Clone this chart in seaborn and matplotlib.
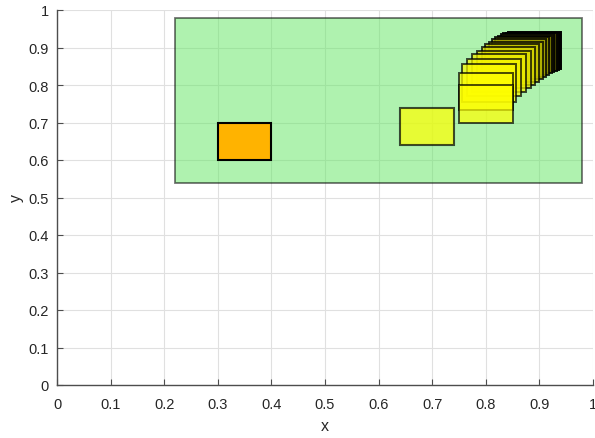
import numpy as np
import matplotlib
matplotlib.use("Agg")
import matplotlib.pyplot as plt
from matplotlib.patches import Rectangle
import seaborn as sns

# rectangles (lower-left corner, size 0.1 x 0.1)
box_x = [0.30, 0.64]
box_y = [0.60, 0.64]
box_colors = [(1.0, 0.70, 0.0), (1.0, 1.0, 0.0)]
box_alpha = [1.0, 0.7]

# big green region
region_xy = (0.22, 0.54)
region_w, region_h = 0.76, 0.44

# trail of boxes, first (yellow) to last (black)
trail_x = [0.750, 0.750, 0.756, 0.765, 0.775, 0.784, 0.792, 0.799, 0.806,
           0.812, 0.818, 0.823, 0.828, 0.833, 0.837, 0.841]
trail_y = [0.700, 0.733, 0.755, 0.770, 0.782, 0.792, 0.801, 0.809, 0.816,
           0.822, 0.827, 0.831, 0.835, 0.838, 0.840, 0.842]
size = 0.1

sns.set_style("whitegrid")
plt.rcParams["font.family"] = ["Liberation Sans", "DejaVu Sans"]

fig = plt.figure(figsize=(5.95, 4.39), dpi=100)
ax = fig.add_axes([57 / 595, 53 / 439, 536 / 595, 375 / 439])

txt = (0.15, 0.15, 0.15)
ax.grid(True, color=(0.88, 0.88, 0.88), linewidth=0.8)
ax.set_axisbelow(True)

ax.add_patch(Rectangle(region_xy, region_w, region_h,
                       facecolor=(0.38, 0.9, 0.38, 0.5),
                       edgecolor=(0.0, 0.0, 0.0, 0.55), linewidth=1.3))

for x, y, c, a in zip(box_x, box_y, box_colors, box_alpha):
    ax.add_patch(Rectangle((x, y), size, size, facecolor=c, alpha=a,
                           edgecolor="black", linewidth=1.5))

n = len(trail_x)
for i in reversed(range(n)):
    t = i / (n - 1)
    k = 1 - t ** 2
    c = (k, k, 0.0)
    a = 0.7 + 0.3 * t ** 2
    ax.add_patch(Rectangle((trail_x[i], trail_y[i]), size, size,
                           facecolor=c, edgecolor="black", alpha=a,
                           linewidth=1.4))

ticks = np.round(np.arange(0, 1.01, 0.1), 1)
labels = ["0" if v == 0 else ("1" if v == 1 else f"{v:g}") for v in ticks]
ax.set_xlim(0, 1)
ax.set_ylim(0, 1)
ax.set_xticks(ticks)
ax.set_xticklabels(labels)
ax.set_yticks(ticks)
ax.set_yticklabels(labels)

for side in ["top", "right"]:
    ax.spines[side].set_visible(False)
for side in ["left", "bottom"]:
    ax.spines[side].set_color((0.3, 0.3, 0.3))
    ax.spines[side].set_linewidth(1.0)

ax.tick_params(direction="in", length=4, width=0.8, color=(0.3, 0.3, 0.3),
               labelsize=10.5, labelcolor=txt, left=True, bottom=True)
ax.tick_params(axis="x", pad=9)
ax.tick_params(axis="y", pad=6)
ax.set_xlabel("x", fontsize=11.5, color=txt, labelpad=5)
ax.set_ylabel("y", fontsize=11.5, color=txt, labelpad=3)

fig.savefig("out.png", dpi=100)
